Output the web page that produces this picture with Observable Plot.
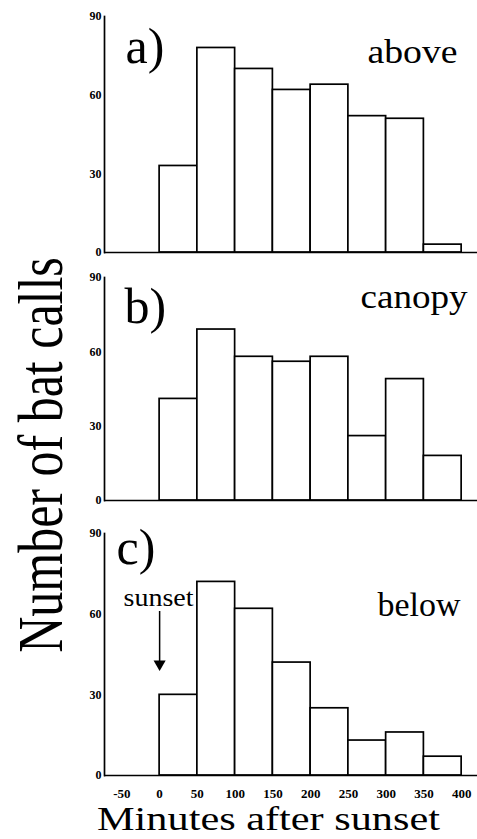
<!DOCTYPE html>
<html><head><meta charset="utf-8">
<script src="https://cdn.jsdelivr.net/npm/d3@7"></script>
<script src="https://cdn.jsdelivr.net/npm/@observablehq/plot@0.6"></script>
<style>
html,body{margin:0;padding:0;background:#fff;}
#wrap{position:relative;width:477px;height:839px;overflow:hidden;}
.panel{position:absolute;left:0;}
#titles{position:absolute;left:0;top:0;}
</style>
</head><body>
<div id="wrap"></div>
<script>
// ---- data ----
const binStart = [-50, 0, 50, 100, 150, 200, 250, 300, 350];
const binEnd   = [0, 50, 100, 150, 200, 250, 300, 350, 400];
const above  = [0, 33, 78, 70, 62, 64, 52, 51, 3];
const canopy = [0, 41, 69, 58, 56, 58, 26, 49, 18];
const below  = [0, 30, 72, 62, 42, 25, 13, 16, 7];
const yTicks = [0, 30, 60, 90];
const xTicks = [-50, 0, 50, 100, 150, 200, 250, 300, 350, 400];
const panelLetters = ["a)", "b)", "c)"];
const panelNames = ["above", "canopy", "below"];
const sunsetLabel = ["sunset"];
const sunsetArrow = [{x: 0, top: 61, tip: 40}];
const xTitle = "Minutes after sunset";
const yTitle = "Number of bat calls";

const serif = "'Liberation Serif','Times New Roman',serif";
const wrap = document.getElementById("wrap");

function rows(vals) {
  return binStart.map((s, i) => ({x1: s, x2: binEnd[i], v: vals[i]}));
}

// stretch text horizontally to the reference's width (the scanned figure is wider than Times)
function fitText(svg, str, len) {
  svg.querySelectorAll("text").forEach(t => {
    if (t.textContent === str) {
      t.setAttribute("textLength", len);
      t.setAttribute("lengthAdjust", "spacingAndGlyphs");
    }
  });
}

function panel(vals, cfg) {
  const marks = [
    Plot.rectY(rows(vals), {x1: "x1", x2: "x2", y: "v", fill: "white", stroke: "black", strokeWidth: 1.7}),
    Plot.ruleY([0], {stroke: "black", strokeWidth: 1.7}),
    Plot.frame({anchor: "left", stroke: "black", strokeWidth: 1.7}),
    Plot.axisY(yTicks, {tickSize: 0, tickPadding: 3, tickFormat: d => String(d), fontSize: 12, fontWeight: "bold", label: null}),
    Plot.text([cfg.letter], {text: d => d, frameAnchor: "top-left", textAnchor: "start", lineAnchor: "top",
      dx: cfg.letterDx, dy: cfg.letterDy, fontSize: 50, fontWeight: "normal", fontFamily: serif}),
    Plot.text([cfg.name], {text: d => d, frameAnchor: "top-right", textAnchor: "end", lineAnchor: "top",
      dx: cfg.nameDx, dy: cfg.nameDy, fontSize: 33, fontWeight: "normal", fontFamily: serif})
  ];
  if (cfg.showX) {
    marks.push(Plot.axisX(xTicks, {tickSize: 0, tickPadding: 13, tickFormat: d => String(d), fontSize: 13, fontWeight: "bold", label: null}));
  }
  if (cfg.sunset) {
    marks.push(
      Plot.text(sunsetLabel, {text: d => d, frameAnchor: "top-left", textAnchor: "start", lineAnchor: "top",
        dx: 19, dy: 72 - 0.71 * 25, fontSize: 25, fontWeight: "normal", fontFamily: serif}),
      Plot.ruleX(sunsetArrow, {x: "x", y1: "top", y2: "tip", stroke: "black", strokeWidth: 1.5}),
      Plot.dot(sunsetArrow, {x: "x", y: "tip", symbol: "triangle", rotate: 180, r: 4.5, fill: "black", stroke: "none", dy: -4})
    );
  }
  const p = Plot.plot({
    width: 477, height: cfg.height,
    marginLeft: 104, marginRight: 0, marginTop: cfg.mt, marginBottom: cfg.mb,
    style: {fontFamily: serif, color: "black", background: "transparent", overflow: "visible"},
    x: {domain: [-73, 421], axis: null},
    y: {domain: [0, 90], axis: null},
    marks
  });
  fitText(p, cfg.name, cfg.nameLen);
  if (cfg.sunset) fitText(p, sunsetLabel[0], 70);
  return p;
}

const cfgs = [
  {top: 0, height: 262, mt: 16, mb: 10, letter: panelLetters[0], name: panelNames[0], nameLen: 90,
   letterDx: 21, letterDy: 46 - 0.71 * 50, nameDx: -20, nameDy: 46 - 0.71 * 33},
  {top: 262, height: 248, mt: 15, mb: 10, letter: panelLetters[1], name: panelNames[1], nameLen: 107,
   letterDx: 20, letterDy: 45 - 0.71 * 50, nameDx: -10, nameDy: 30 - 0.71 * 33},
  {top: 510, height: 329, mt: 23, mb: 64, letter: panelLetters[2], name: panelNames[2], nameLen: 83,
   letterDx: 12, letterDy: 30 - 0.71 * 50, nameDx: -17, nameDy: 82 - 0.71 * 33, showX: true, sunset: true}
];
const series = [above, canopy, below];

cfgs.forEach((c, i) => {
  const p = panel(series[i], c);
  p.classList.add("panel");
  p.style.top = c.top + "px";
  wrap.appendChild(p);
});

// axis titles (stretched horizontally like the scanned original)
const svg = d3.create("svg").attr("id", "titles").attr("width", 477).attr("height", 839);
svg.append("text").attr("x", 97).attr("y", 830).attr("text-anchor", "start")
  .attr("font-family", serif).attr("font-size", 33)
  .attr("textLength", 343).attr("lengthAdjust", "spacingAndGlyphs").text(xTitle);
svg.append("text").attr("transform", "translate(62,455) rotate(-90) scale(1,1.27)").attr("text-anchor", "middle")
  .attr("font-family", serif).attr("font-size", 50).text(yTitle);
wrap.appendChild(svg.node());
</script>
</body></html>
